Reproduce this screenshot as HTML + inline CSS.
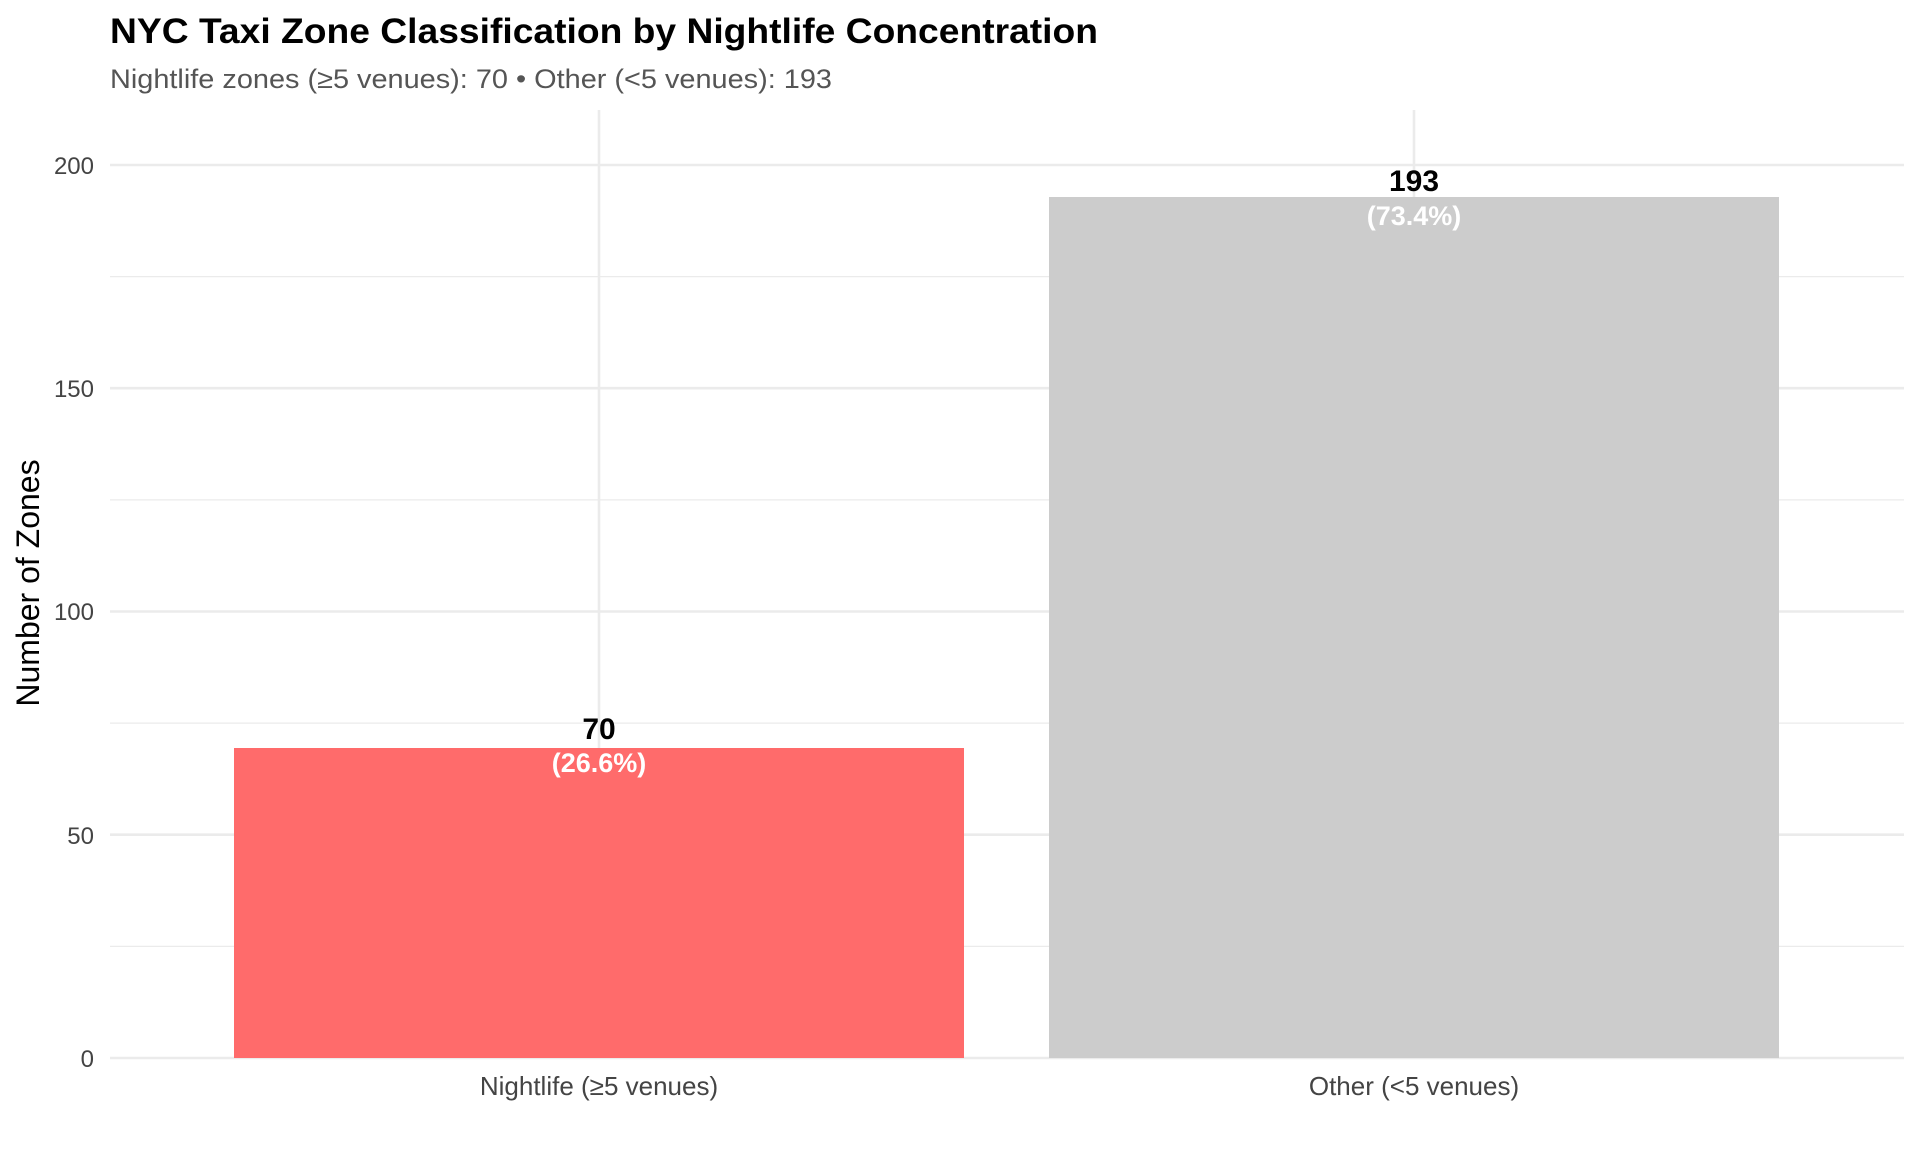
<!DOCTYPE html>
<html><head><meta charset="utf-8"><style>body{margin:0;background:#fff}svg{display:block}</style></head>
<body>
<svg width="1920" height="1152" xmlns="http://www.w3.org/2000/svg" font-family="Liberation Sans, sans-serif">
<rect width="1920" height="1152" fill="#fff"/>
<g stroke="#ebebeb" stroke-width="1.3">
<line x1="110" x2="1904" y1="946.4" y2="946.4"/>
<line x1="110" x2="1904" y1="723.1" y2="723.1"/>
<line x1="110" x2="1904" y1="499.9" y2="499.9"/>
<line x1="110" x2="1904" y1="276.6" y2="276.6"/>
</g>
<g stroke="#ebebeb" stroke-width="2.6">
<line x1="110" x2="1904" y1="1058" y2="1058"/>
<line x1="110" x2="1904" y1="834.7" y2="834.7"/>
<line x1="110" x2="1904" y1="611.5" y2="611.5"/>
<line x1="110" x2="1904" y1="388.2" y2="388.2"/>
<line x1="110" x2="1904" y1="165" y2="165"/>
<line x1="599" x2="599" y1="110" y2="1058"/>
<line x1="1414" x2="1414" y1="110" y2="1058"/>
</g>
<rect x="234" y="748" width="730" height="310" fill="#ff6b6b"/>
<rect x="1049" y="197" width="730" height="861" fill="#cccccc"/>
<text x="110" y="43" font-size="35" font-weight="bold" fill="#000" textLength="988" lengthAdjust="spacingAndGlyphs">NYC Taxi Zone Classification by Nightlife Concentration</text>
<text x="110" y="88" font-size="27" fill="#555" textLength="722" lengthAdjust="spacingAndGlyphs">Nightlife zones (≥5 venues): 70 • Other (&lt;5 venues): 193</text>
<g font-size="24" fill="#444" text-anchor="end">
<text x="94" y="1067">0</text>
<text x="94" y="844">50</text>
<text x="94" y="620">100</text>
<text x="94" y="397">150</text>
<text x="94" y="174">200</text>
</g>
<g font-size="26" fill="#444" text-anchor="middle">
<text x="599" y="1095">Nightlife (≥5 venues)</text>
<text x="1414" y="1095">Other (&lt;5 venues)</text>
</g>
<text transform="translate(39,583) rotate(-90)" font-size="32" fill="#000" text-anchor="middle">Number of Zones</text>
<g text-anchor="middle" font-weight="bold">
<text x="599" y="739" font-size="30" fill="#000">70</text>
<text x="599" y="772" font-size="27" fill="#fff">(26.6%)</text>
<text x="1414" y="191" font-size="30" fill="#000">193</text>
<text x="1414" y="225" font-size="27" fill="#fff">(73.4%)</text>
</g>
</svg>
</body></html>
